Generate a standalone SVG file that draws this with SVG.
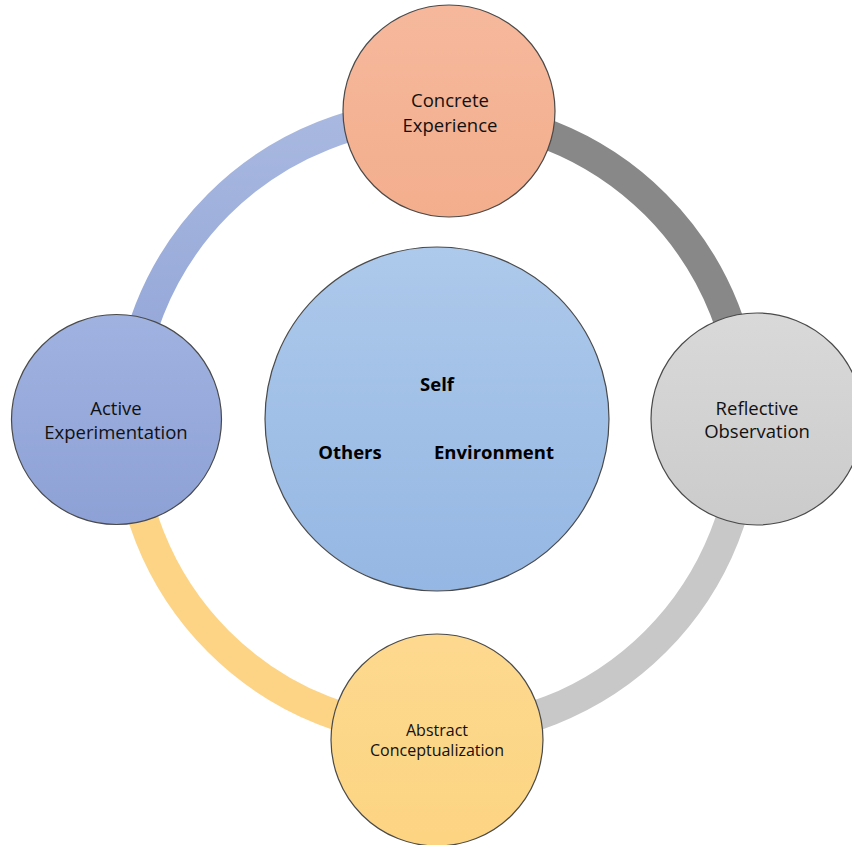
<svg xmlns="http://www.w3.org/2000/svg" width="852" height="845" viewBox="0 0 852 845">
<style>
.node{stroke:#4a4a4a;stroke-width:1.2}
.lbl{font-family:"Open Sans","Liberation Sans",sans-serif;font-size:18.5px;fill:#111;text-anchor:middle}
.small{font-size:16px}
.bold{font-family:"Open Sans","Liberation Sans",sans-serif;font-size:18.5px;font-weight:bold;fill:#000;text-anchor:middle}
.arc{fill:none;stroke-width:30}
</style>
<defs>
<linearGradient id="gBlueArc" gradientUnits="userSpaceOnUse" x1="0" y1="114" x2="0" y2="423"><stop offset="0" stop-color="#a8b8e0"/><stop offset="1" stop-color="#8fa2d6"/></linearGradient>
<linearGradient id="gTop" x1="0" y1="0" x2="0" y2="1"><stop offset="0" stop-color="#f6b89c"/><stop offset="1" stop-color="#f3ae8d"/></linearGradient>
<linearGradient id="gRight" x1="0" y1="0" x2="0" y2="1"><stop offset="0" stop-color="#d9d9d9"/><stop offset="1" stop-color="#cbcbcb"/></linearGradient>
<linearGradient id="gBottom" x1="0" y1="0" x2="0" y2="1"><stop offset="0" stop-color="#fdd98f"/><stop offset="1" stop-color="#fcd482"/></linearGradient>
<linearGradient id="gLeft" x1="0" y1="0" x2="0" y2="1"><stop offset="0" stop-color="#a0b2e0"/><stop offset="1" stop-color="#8ea1d6"/></linearGradient>
<linearGradient id="gCenter" x1="0" y1="0" x2="0" y2="1"><stop offset="0" stop-color="#adc9eb"/><stop offset="1" stop-color="#95b7e3"/></linearGradient>
</defs>
<g id="connectors">
<path class="arc" stroke="url(#gBlueArc)" d="M128,423 A309,309 0 0 1 437,114"/>
<path class="arc" stroke="#888888" d="M437,114 A309,309 0 0 1 746,423"/>
<path class="arc" stroke="#c8c8c8" d="M746,423 A309,309 0 0 1 437,732"/>
<path class="arc" stroke="#fdd485" d="M437,732 A309,309 0 0 1 128,423"/>
</g>
<g id="center">
<circle class="node" cx="437" cy="419" r="172" fill="url(#gCenter)"/>
<text class="bold" x="437" y="391">Self</text>
<text class="bold" x="350" y="459">Others</text>
<text class="bold" x="494" y="459">Environment</text>
</g>
<g id="concrete-experience">
<circle class="node" cx="449" cy="111" r="106" fill="url(#gTop)"/>
<text class="lbl" x="450" y="107">Concrete</text>
<text class="lbl" x="450" y="132">Experience</text>
</g>
<g id="reflective-observation">
<circle class="node" cx="757" cy="419" r="106" fill="url(#gRight)"/>
<text class="lbl" x="757" y="415">Reflective</text>
<text class="lbl" x="757" y="438">Observation</text>
</g>
<g id="abstract-conceptualization">
<circle class="node" cx="437" cy="740" r="106" fill="url(#gBottom)"/>
<text class="lbl small" x="437" y="736">Abstract</text>
<text class="lbl small" x="437" y="756">Conceptualization</text>
</g>
<g id="active-experimentation">
<circle class="node" cx="116.5" cy="419.5" r="105" fill="url(#gLeft)"/>
<text class="lbl" x="116" y="415">Active</text>
<text class="lbl" x="116" y="439">Experimentation</text>
</g>
</svg>
